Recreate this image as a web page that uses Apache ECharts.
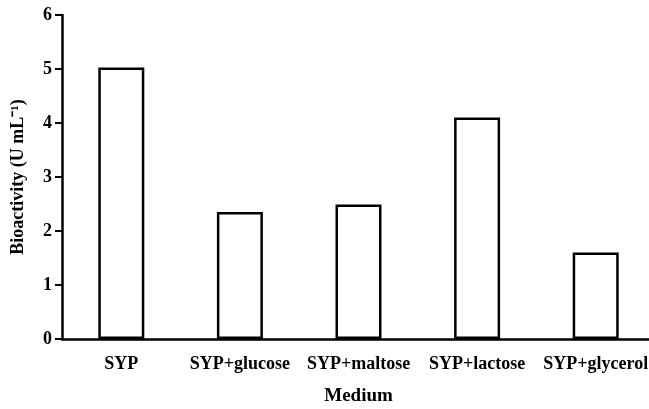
<!DOCTYPE html>
<html><head><meta charset="utf-8">
<script src="https://cdn.jsdelivr.net/npm/echarts@6/dist/echarts.min.js"></script>
<style>html,body{margin:0;padding:0;background:#fff}#c{width:649px;height:409px}</style>
</head><body><div id="c"></div>
<script>
const categories = ['SYP', 'SYP+glucose', 'SYP+maltose', 'SYP+lactose', 'SYP+glycerol'];
const bioactivity = [5.03, 2.35, 2.49, 4.10, 1.60];
const yTicks = [0, 1, 2, 3, 4, 5, 6];

const font = 'Liberation Serif';
const chart = echarts.init(document.getElementById('c'), null, {renderer: 'canvas'});
chart.setOption({
  animation: false,
  backgroundColor: '#fff',
  grid: {left: 62, top: 15, width: 593, height: 324, containLabel: false, outerBoundsMode: 'none'},
  xAxis: {
    type: 'category',
    data: categories,
    name: 'Medium',
    nameLocation: 'middle',
    nameGap: 48,
    nameTextStyle: {fontFamily: font, fontWeight: 'bold', fontSize: 19, color: '#000'},
    axisLine: {lineStyle: {color: '#000', width: 2.5}},
    axisTick: {alignWithLabel: true, length: 6, lineStyle: {color: '#000', width: 2}},
    axisLabel: {fontFamily: font, fontWeight: 'bold', fontSize: 18, color: '#000', margin: 16, interval: 0}
  },
  yAxis: {
    type: 'value',
    min: yTicks[0], max: yTicks[yTicks.length - 1], interval: 1,
    name: 'Bioactivity (U mL\u207B\u00B9)',
    nameLocation: 'middle',
    nameGap: 35,
    nameTextStyle: {fontFamily: font, fontWeight: 'bold', fontSize: 18, color: '#000'},
    axisLine: {show: true, lineStyle: {color: '#000', width: 2.5}},
    axisTick: {show: true, length: 7, lineStyle: {color: '#000', width: 2}},
    axisLabel: {fontFamily: font, fontWeight: 'bold', fontSize: 18, color: '#000', margin: 10},
    splitLine: {show: false}
  },
  series: [{
    type: 'bar',
    data: bioactivity,
    barWidth: 46,
    itemStyle: {color: '#fff', borderColor: '#000', borderWidth: 2.5}
  }]
});
</script></body></html>
